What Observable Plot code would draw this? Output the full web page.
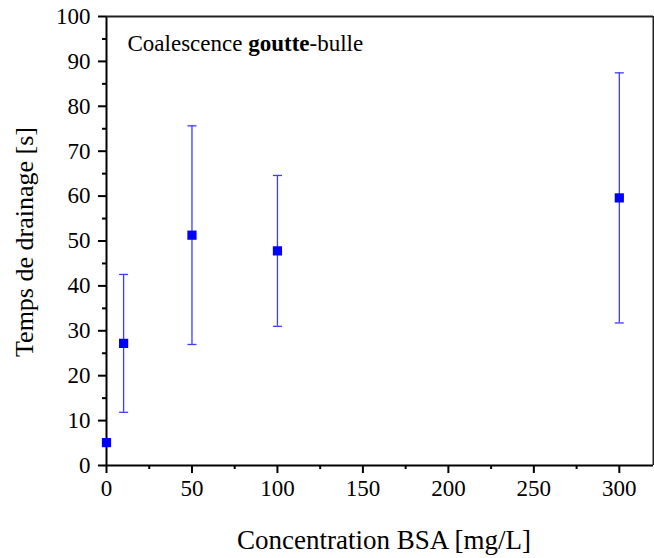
<!DOCTYPE html>
<html><head><meta charset="utf-8">
<script src="https://cdn.jsdelivr.net/npm/d3@7"></script>
<script src="https://cdn.jsdelivr.net/npm/@observablehq/plot@0.6"></script>
<style>
html,body{margin:0;padding:0;background:#fff;}
</style></head>
<body><div id="chart"></div>
<script>
const concentrations = [0, 10, 50, 100, 300];
const means = [5.1, 27.2, 51.3, 47.8, 59.6];
const sds = [0.4, 15.35, 24.35, 16.8, 27.85];
const xMajorTicks = [0, 50, 100, 150, 200, 250, 300];
const xMinorTicks = [25, 75, 125, 175, 225, 275];
const yMajorTicks = [0, 10, 20, 30, 40, 50, 60, 70, 80, 90, 100];
const yMinorTicks = [5, 15, 25, 35, 45, 55, 65, 75, 85, 95];
const titlePlain1 = "Coalescence ";
const titleBold = "goutte";
const titlePlain2 = "-bulle";

const FONT = "'Liberation Serif', 'Times New Roman', serif";
const data = concentrations.map((c, i) => ({x: c, y: means[i], lo: means[i] - sds[i], hi: means[i] + sds[i]}));

const capSymbol = {draw(ctx, size) { const w = 4.5; ctx.moveTo(-w, 0); ctx.lineTo(w, 0); }};

const chart = Plot.plot({
  width: 654, height: 558,
  marginLeft: 106, marginRight: 1, marginTop: 16, marginBottom: 93,
  style: {fontFamily: FONT, fontSize: "23px", color: "black", background: "white"},
  x: {domain: [0, 320], label: null},
  y: {domain: [0, 100], label: null},
  marks: [
    Plot.axisX({ticks: xMajorTicks, tickSize: 8, tickPadding: 6, strokeWidth: 2, fontSize: 23, fontFamily: FONT, label: null}),
    Plot.axisX({ticks: xMinorTicks, tickSize: 4, strokeWidth: 2, text: null, label: null}),
    Plot.axisY({ticks: yMajorTicks, tickSize: 8, tickPadding: 8, strokeWidth: 2, fontSize: 23, fontFamily: FONT, label: null}),
    Plot.axisY({ticks: yMinorTicks, tickSize: 4, strokeWidth: 2, text: null, label: null}),
    Plot.ruleY([0], {stroke: "black", strokeWidth: 2}),
    Plot.ruleX([0], {stroke: "black", strokeWidth: 2}),
    Plot.ruleY([100], {stroke: "#222", strokeWidth: 2}),
    Plot.ruleX([320], {stroke: "#222", strokeWidth: 2}),
    Plot.ruleX(data.filter(d => d.x > 0), {x: "x", y1: "lo", y2: "hi", stroke: "#3c3cff", strokeWidth: 1.3}),
    Plot.dot(data.filter(d => d.x > 0), {x: "x", y: "lo", symbol: capSymbol, stroke: "#3c3cff", strokeWidth: 1.3, r: 4}),
    Plot.dot(data.filter(d => d.x > 0), {x: "x", y: "hi", symbol: capSymbol, stroke: "#3c3cff", strokeWidth: 1.3, r: 4}),
    Plot.dot(data, {x: "x", y: "y", symbol: "square", fill: "#0000ff", r: 5.2}),
    Plot.text([titlePlain1], {frameAnchor: "top-left", dx: 21, dy: 18, fontSize: 23, fontFamily: FONT, fill: "black", textAnchor: "start", className: "ttl"})
  ]
});

document.getElementById("chart").appendChild(chart);
const svg = d3.select(chart);

// Mixed-weight title
const t = svg.select("g.ttl text");
t.text(null);
t.append("tspan").text(titlePlain1);
t.append("tspan").attr("font-weight", "bold").text(titleBold);
t.append("tspan").text(titlePlain2);

// Axis titles
svg.append("text").attr("x", 384).attr("y", 549).attr("text-anchor", "middle")
  .attr("font-size", 27).attr("fill", "black").text("Concentration BSA [mg/L]");
svg.append("text").attr("transform", "translate(33,242) rotate(-90)").attr("text-anchor", "middle")
  .attr("font-size", 26).attr("fill", "black").text("Temps de drainage [s]");

svg.selectAll("g, text").style("font-family", FONT);
svg.style("font-family", FONT);
</script>
</body></html>
